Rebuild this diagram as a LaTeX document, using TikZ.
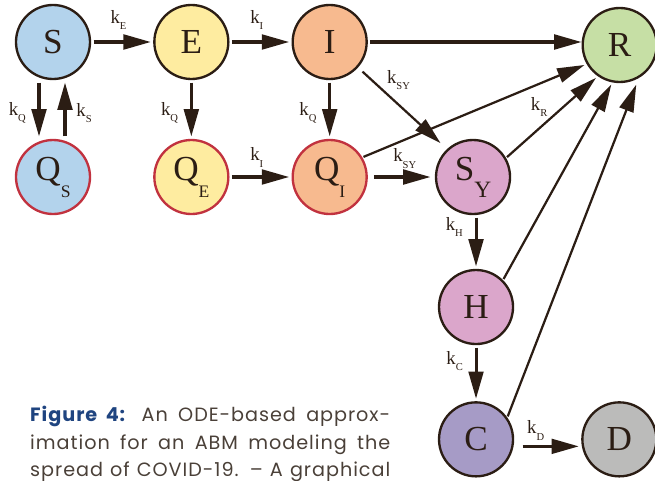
\documentclass[tikz,border=0pt]{standalone}
\usepackage{fontspec}
\setmainfont{Liberation Serif}
\newfontfamily\capfont[LetterSpace=5]{Poppins}
\usetikzlibrary{arrows.meta}
\definecolor{ink}{HTML}{2B1D14}
\definecolor{qred}{HTML}{C1323F}
\definecolor{sblue}{HTML}{B3D3EC}
\definecolor{eyellow}{HTML}{FEECA0}
\definecolor{ipeach}{HTML}{F7BA8F}
\definecolor{rgreen}{HTML}{C6DFA5}
\definecolor{ypink}{HTML}{DBA6CB}
\definecolor{clilac}{HTML}{A69BC6}
\definecolor{dgrey}{HTML}{BBBBBA}
\definecolor{figblue}{HTML}{1F4480}
\definecolor{captext}{HTML}{4A4038}
\newcommand{\low}[2][15]{\raisebox{-14.5pt}{\fontsize{#1}{#1}\selectfont #2}}
\newcommand{\rate}[1]{k\raisebox{-5.5pt}{\fontsize{9}{9}\selectfont #1}}
\tikzstyle{state} = [circle, minimum size=2.22cm, inner sep=0pt, line width=2pt, draw=ink, text=ink, font=\fontsize{30}{31}\selectfont]
\tikzstyle{quar} = [state, draw=qred]
\tikzstyle{rate} = [text=ink, inner sep=1pt, font=\fontsize{16}{16}\selectfont]
\tikzstyle{arrow} = [line width=2.6pt, draw=ink, -{Triangle[length=0.82cm,width=0.44cm]}, shorten <=2pt, shorten >=2pt]
\tikzstyle{longarrow} = [arrow, line width=1.9pt, shorten <=1pt]
\tikzstyle{caption} = [anchor=base west, inner sep=0pt, text=captext, font=\capfont\fontsize{16.4}{20}\selectfont]

\begin{document}
\begin{tikzpicture}[node distance=4.15cm, x=0.03cm, y=-0.03cm]
\useasboundingbox (0,0) rectangle (655,480);
% compartments
\node (S) [state, fill=sblue] at (53,42) {S};
\node (E) [state, fill=eyellow, right of = S] {E};
\node (I) [state, fill=ipeach, right of = E] {I};
\node (R) [state, fill=rgreen, right of = I, xshift = 4.55cm, yshift = -0.09cm] {R};
\node (Qs) [quar, fill=sblue, below of = S, yshift = 0.1cm] {Q\low{S}};
\node (QE) [quar, fill=eyellow, below of = E, yshift = 0.1cm] {Q\low{E}};
\node (QI) [quar, fill=ipeach, below of = I, yshift = 0.1cm] {Q\low{I}};
\node (SY) [state, fill=ypink, right of = QI, xshift = 0.15cm] {S\low[20]{Y}};
\node (H) [state, fill=ypink, below of = SY, xshift = 0.09cm, yshift = 0.25cm] {H};
\node (C) [state, fill=clilac, below of = H, yshift = 0.18cm] {C};
\node (D) [state, fill=dgrey, right of = C, xshift = 0.15cm] {D};
% transitions
\draw [arrow] (S) -- node (kE) [rate, pos=0.44, above=8pt] {\rate{E}} (E);
\draw [arrow] (E) -- node (kI) [rate, pos=0.44, above=8pt] {\rate{I}} (I);
\draw [arrow, shorten >=0pt] (I) -- (I -| R.west);
\draw [arrow] ([xshift=-0.42cm]S.south) -- node (kQs) [rate, pos=0.56, left=9pt] {\rate{Q}} ([xshift=-0.42cm]Qs.north);
\draw [arrow] ([xshift=0.36cm]Qs.north) -- node (kS) [rate, pos=0.44, right=7.5pt] {\rate{S}} ([xshift=0.36cm]S.south);
\draw [arrow] (E) -- node (kQE) [rate, pos=0.56, left=9pt] {\rate{Q}} (QE);
\draw [arrow] (I) -- node (kQI) [rate, pos=0.56, left=9pt] {\rate{Q}} (QI);
\draw [arrow] (QE) -- node (kIq) [rate, pos=0.44, above=6pt] {\rate{I}} (QI);
\draw [arrow, shorten <=0.18cm, shorten >=0.13cm] (QI) -- node (kSYq) [rate, pos=0.55, above=5pt] {\rate{SY}} (SY);
\draw [longarrow, shorten <=0.18cm, shorten >=0.26cm] (I.-42) -- node (kSY) [rate, pos=0.3, above right] {\rate{SY}} (SY.133);
\draw [longarrow] (QI.31) -- (R.210);
\draw [longarrow] (SY.30) -- node (kR) [rate, pos=0.475, above left] {\rate{R}} (R.235);
\draw [longarrow] (H.45) -- (R.259);
\draw [longarrow, shorten >=0.21cm] (C.35) -- (R.300);
\draw [arrow] (H |- SY.south) -- node (kH) [rate, pos=0.22, left=9pt] {\rate{H}} (H);
\draw [arrow] (H) -- node (kC) [rate, pos=0.28, left=9pt] {\rate{C}} (C);
\draw [arrow, shorten <=0.25cm] ([yshift=-0.21cm]C.east) -- node (kD) [rate, pos=0.32, above=3pt] {\rate{D}} ([yshift=-0.21cm]D.west);
% caption
\node (cap1) [caption] at (30,421.7) {\makebox[10.8cm][s]{\textcolor{figblue}{\bfseries Figure 4:} An ODE-based approx-}};
\node (cap2) [caption] at (30,449.2) {\makebox[10.8cm][s]{imation for an ABM modeling the}};
\node (cap3) [caption] at (30,476.7) {\makebox[10.8cm][s]{spread of COVID-19. – A graphical}};
\end{tikzpicture}
\end{document}
